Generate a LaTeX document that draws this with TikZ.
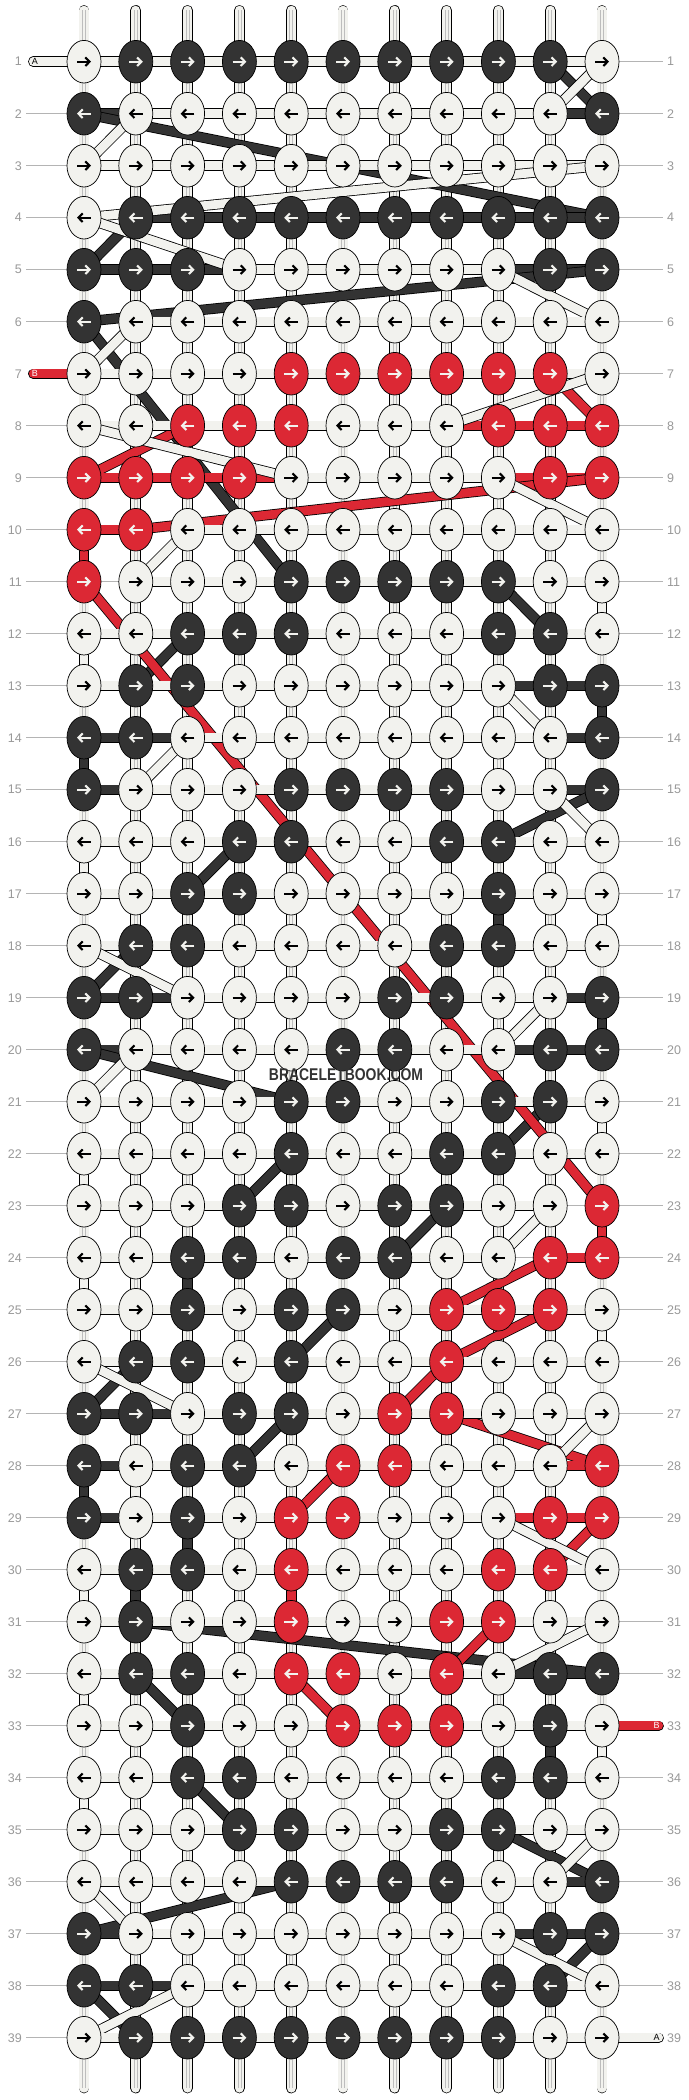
\documentclass[tikz,border=0pt]{standalone}
\usepackage{fontspec}
\setmainfont{Liberation Sans}
\usetikzlibrary{arrows.meta,shapes.geometric}
\definecolor{cW}{HTML}{F2F2EE}
\definecolor{cD}{HTML}{333333}
\definecolor{cR}{HTML}{DC2834}
\definecolor{lblline}{HTML}{B4B4B4}
\definecolor{lbltext}{HTML}{999999}
\definecolor{tubeln}{HTML}{BDBDBD}

\newcount\kc
\def\storerow#1#2{\def\tmprow{#1}\global\kc=0 \storechars#2\relax}
\def\storechars#1{\ifx#1\relax\else\global\advance\kc by 1 \expandafter\xdef\csname K-\tmprow-\the\kc\endcsname{#1}\expandafter\storechars\fi}

\storerow{1}{WDDDDDDDDDW}
\storerow{2}{DWWWWWWWWWD}
\storerow{3}{WWWWWWWWWWW}
\storerow{4}{WDDDDDDDDDD}
\storerow{5}{DDDWWWWWWDD}
\storerow{6}{DWWWWWWWWWW}
\storerow{7}{WWWWRRRRRRW}
\storerow{8}{WWRRRWWWRRR}
\storerow{9}{RRRRWWWWWRR}
\storerow{10}{RRWWWWWWWWW}
\storerow{11}{RWWWDDDDDWW}
\storerow{12}{WWDDDWWWDDW}
\storerow{13}{WDDWWWWWWDD}
\storerow{14}{DDWWWWWWWWD}
\storerow{15}{DWWWDDDDWWD}
\storerow{16}{WWWDDWWDDWW}
\storerow{17}{WWDDWWWWDWW}
\storerow{18}{WDDWWWWDDWW}
\storerow{19}{DDWWWWDDWWD}
\storerow{20}{DWWWWDDWWDD}
\storerow{21}{WWWWDDWWDDW}
\storerow{22}{WWWWDWWDDWW}
\storerow{23}{WWWDDWDDWWR}
\storerow{24}{WWDDWDDWWRR}
\storerow{25}{WWDWDDWRRRW}
\storerow{26}{WDDWDWWRWWW}
\storerow{27}{DDWDDWRRWWW}
\storerow{28}{DWDDWRRWWWR}
\storerow{29}{DWDWRRWWWRR}
\storerow{30}{WDDWRWWWRRW}
\storerow{31}{WDWWRWWRRWW}
\storerow{32}{WDDWRRWRWDD}
\storerow{33}{WWDWWRRRWDW}
\storerow{34}{WWDDWWWWDDW}
\storerow{35}{WWWDDWWDDWW}
\storerow{36}{WWWWDDDDWWD}
\storerow{37}{DWWWWWWWWDD}
\storerow{38}{DDWWWWWWDDW}
\storerow{39}{WDDDDDDDDWW}

\tikzset{
  knot/.style={ellipse, draw=black, line width=0.7, minimum width=34, minimum height=42.6, inner sep=0, outer sep=0},
  segout/.style={draw=black, line width=10.4, line cap=round},
  segfill/.style={line width=8.8, line cap=round},
  tubeout/.style={draw=black, line width=10.7, line cap=round},
  tubefill/.style={draw=cW, line width=9.3, line cap=round},
  tubeinner/.style={draw=tubeln, line width=0.5},
  rowline/.style={draw=lblline, line width=0.9},
  rowlbl/.style={text=lbltext, font=\fontsize{12.5}{13}\selectfont, inner sep=0},
  arr/.style={line width=2.1, -{Straight Barb[length=4.2,width=8.6]}},
  tabtxt/.style={font=\fontsize{9}{9}\selectfont, inner sep=0}
}

\newcommand\strseg[3]{\draw[segout] (#2) -- (#3); \draw[segfill,#1] (#2) -- (#3);}
\newcommand\strpass[2]{%
  \foreach \r in {1,...,39}{%
    \foreach \k in {1,...,11}{%
      \pgfmathtruncatemacro\c{isodd(\r)?\k:12-\k}%
      \edef\ch{\csname K-\r-\c\endcsname}%
      \if#1\ch
        \ifx\lastK\relax\else\strseg{#2}{\lastK}{k-\r-\c}\fi
        \xdef\lastK{k-\r-\c}%
      \fi
    }%
  }%
}

\begin{document}
\begin{tikzpicture}[x=1pt,y=-1pt]
\useasboundingbox (0,0) rectangle (688,2100);
\fill[white] (0,0) rectangle (688,2100);

% knot positions
\foreach \r in {1,...,39}{\foreach \c in {1,...,11}{%
  \coordinate (k-\r-\c) at ({84+(\c-1)*51.8},{61.7+(\r-1)*52});}}

% row lines and numbers
\foreach \r in {1,...,39}{%
  \pgfmathsetmacro\yy{61.7+(\r-1)*52}
  \pgfmathsetmacro\xl{(\r==1||\r==7)?31:26}
  \pgfmathsetmacro\xr{(\r==33||\r==39)?658:663}
  \coordinate (ll-\r) at (\xl,\yy);
  \coordinate (lr-\r) at (\xr,\yy);
  \draw[rowline] (ll-\r) -- (lr-\r);
  \node[rowlbl,anchor=east] (nl-\r) at (22,\yy) {\r};
  \node[rowlbl,anchor=west] (nr-\r) at (667,\yy) {\r};
}

% vertical base strings
\foreach \c in {1,...,11}{%
  \pgfmathsetmacro\xx{84+(\c-1)*51.8}
  \coordinate (tt-\c) at (\xx,10.4);
  \coordinate (tb-\c) at (\xx,2088);
  \draw[tubeout] (tt-\c) -- (tb-\c);
  \draw[tubefill] (tt-\c) -- (tb-\c);
  \draw[tubeinner] ([xshift=-1.5]tt-\c) -- ([xshift=-1.5]tb-\c);
  \draw[tubeinner] ([xshift=1.5]tt-\c) -- ([xshift=1.5]tb-\c);
}

% tab ends
\coordinate (tA1) at (33.3,61.7);
\coordinate (tA2) at (658.7,2037.7);
\coordinate (tB1) at (33.3,373.7);
\coordinate (tB2) at (658.7,1725.7);

% string paths: dark, red, white
\global\let\lastK\relax
\strpass{D}{cD}
\xdef\lastK{tB1}
\strpass{R}{cR}
\strseg{cR}{\lastK}{tB2}
\xdef\lastK{tA1}
\strpass{W}{cW}
\strseg{cW}{\lastK}{tA2}

\node[tabtxt,text=black] (lA1) at (35,61.7) {A};
\node[tabtxt,text=white] (lB1) at (35,373.7) {B};
\node[tabtxt,text=white] (lB2) at (656.5,1725.7) {B};
\node[tabtxt,text=black] (lA2) at (656.5,2037.7) {A};

% knots
\foreach \r in {1,...,39}{\foreach \c in {1,...,11}{%
  \edef\ch{\csname K-\r-\c\endcsname}%
  \edef\kfill{c\ch}%
  \if W\ch \def\acol{black}\else\def\acol{cW}\fi
  \node[knot,fill=\kfill] (n-\r-\c) at (k-\r-\c) {};
  \ifodd\r
    \draw[arr,\acol] ([xshift=-6.8]n-\r-\c.center) -- ([xshift=7]n-\r-\c.center);
  \else
    \draw[arr,\acol] ([xshift=6.8]n-\r-\c.center) -- ([xshift=-7]n-\r-\c.center);
  \fi
}}

\node[font=\bfseries\fontsize{17}{17}\selectfont, text=cD, inner sep=0] (wm) at (346,1075) {\scalebox{0.82}[1]{BRACELETBOOK.COM}};
\end{tikzpicture}
\end{document}
